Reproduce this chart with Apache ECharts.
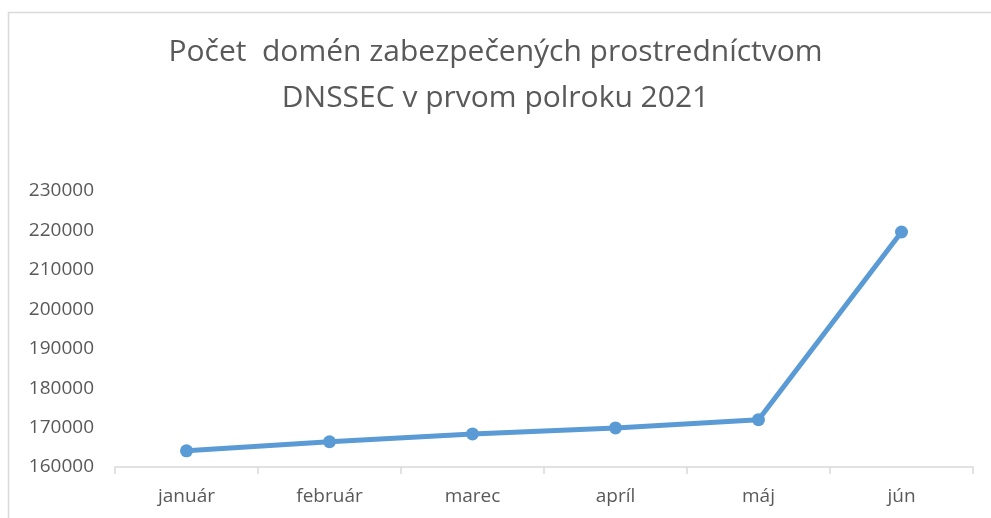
<!DOCTYPE html>
<html>
<head>
<meta charset="utf-8">
<script src="https://cdn.jsdelivr.net/npm/echarts@6/dist/echarts.min.js"></script>
<style>
  html, body { margin: 0; padding: 0; background: #fff; }
  #chart { width: 991px; height: 518px; }
</style>
</head>
<body>
<div id="chart"></div>
<script>
let months = ['január', 'február', 'marec', 'apríl', 'máj', 'jún'];
let domainCounts = [164100, 166400, 168400, 169900, 172000, 219600];
let yTicks = { min: 160000, max: 230000, step: 10000 };
let titleLines = ['Počet  domén zabezpečených prostredníctvom', 'DNSSEC v prvom polroku 2021'];

let textColor = '#595959';
let lineColor = '#5B9BD5';

let chart = echarts.init(document.getElementById('chart'));
chart.setOption({
  animation: false,
  backgroundColor: '#ffffff',
  // light frame of the chart area (top and left edges visible)
  graphic: [{
    type: 'rect',
    shape: { x: 8.5, y: 12.5, width: 1100, height: 600 },
    style: { fill: 'none', stroke: '#d9d9d9', lineWidth: 1.5 },
    silent: true
  }],
  title: {
    text: titleLines.join('\n'),
    left: 'center',
    top: 24,
    textStyle: {
      fontFamily: 'Open Sans',
      fontWeight: 'normal',
      fontSize: 30,
      lineHeight: 46,
      color: textColor
    }
  },
  grid: { left: 115, right: 18, top: 191, bottom: 51 },
  xAxis: {
    type: 'category',
    data: months,
    boundaryGap: true,
    axisLine: { lineStyle: { color: '#d9d9d9', width: 1.5 } },
    axisTick: { show: true, length: 7, lineStyle: { color: '#d9d9d9', width: 1.5 } },
    axisLabel: { color: textColor, fontFamily: 'Open Sans', fontSize: 19, margin: 20 }
  },
  yAxis: {
    type: 'value',
    min: yTicks.min,
    max: yTicks.max,
    interval: yTicks.step,
    axisLine: { show: false },
    axisTick: { show: false },
    splitLine: { show: false },
    axisLabel: {
      color: textColor, fontFamily: 'Open Sans', fontSize: 19, margin: 21,
      formatter: v => String(v)
    }
  },
  series: [{
    type: 'line',
    data: domainCounts,
    symbol: 'circle',
    symbolSize: 13,
    lineStyle: { color: lineColor, width: 5 },
    itemStyle: { color: lineColor }
  }]
});
</script>
</body>
</html>
